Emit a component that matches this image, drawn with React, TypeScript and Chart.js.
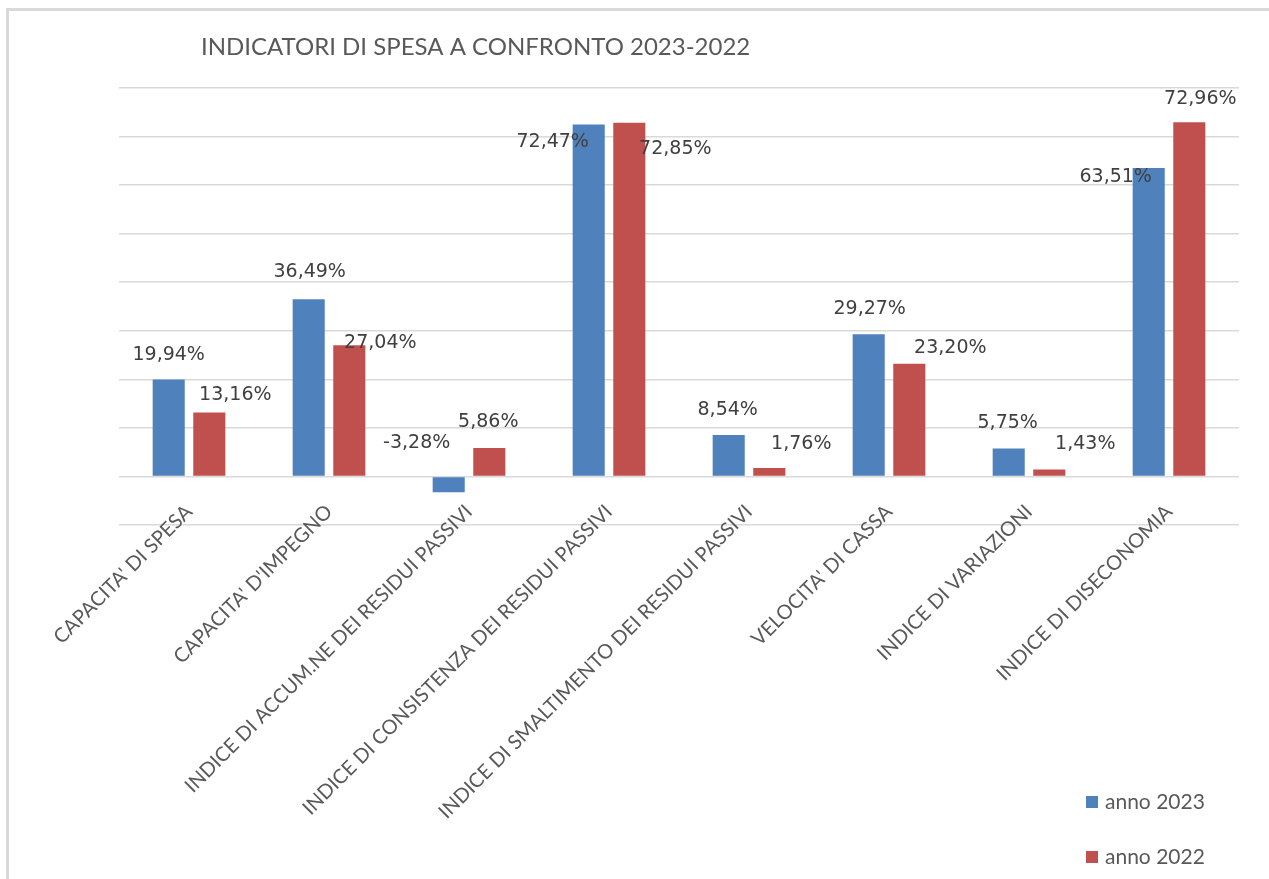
import React, { useEffect, useRef } from "react";
import { Chart, registerables } from "chart.js";

Chart.register(...registerables);

const TITLE = "INDICATORI DI SPESA A CONFRONTO 2023-2022";
const CATEGORIES = [
  "CAPACITA' DI SPESA",
  "CAPACITA' D'IMPEGNO",
  "INDICE DI ACCUM.NE DEI RESIDUI PASSIVI",
  "INDICE DI CONSISTENZA DEI RESIDUI PASSIVI",
  "INDICE DI SMALTIMENTO DEI RESIDUI PASSIVI",
  "VELOCITA' DI CASSA",
  "INDICE DI VARIAZIONI",
  "INDICE DI DISECONOMIA",
];
const SERIES_2023_LABEL = "anno 2023";
const SERIES_2022_LABEL = "anno 2022";
const VALUES_2023 = [19.94, 36.49, -3.28, 72.47, 8.54, 29.27, 5.75, 63.51];
const VALUES_2022 = [13.16, 27.04, 5.86, 72.85, 1.76, 23.2, 1.43, 72.96];
const Y_MIN = -10;
const Y_MAX = 80;
const Y_STEP = 10;

// label offsets (px) relative to bar end, as placed in the reference
const LABEL_DX = [
  [0, 1, -32, -36, -1, 1, -1, -33],
  [26, 31, -1, 46, 32, 41, 36, 11],
];
const LABEL_DY = [
  [-25, -27, -49, 18, -25, -25, -25, 9],
  [-17, -2, -26, 26, -24, -16, -25, -23],
];

const BLUE = "#4F81BD";
const RED = "#C0504D";
const TEXT = "#595959";
const GRID = "#d9d9d9";
const SANS = "Lato, 'Open Sans', sans-serif";

const fmt = (v: number) => v.toFixed(2).replace(".", ",") + "%";

const decorPlugin = {
  id: "decor",
  beforeDraw(chart: any) {
    const ctx = chart.ctx;
    ctx.save();
    ctx.fillStyle = "#ffffff";
    ctx.fillRect(0, 0, chart.width, chart.height);
    ctx.fillStyle = GRID;
    ctx.fillRect(6, 8, 3, chart.height - 8);
    ctx.fillRect(6, 8, chart.width - 6, 3);
    ctx.restore();
  },
  afterDraw(chart: any) {
    const ctx = chart.ctx;
    ctx.save();
    // title
    ctx.fillStyle = TEXT;
    ctx.font = `24px ${SANS}`;
    ctx.textAlign = "left";
    ctx.textBaseline = "middle";
    ctx.fillText(TITLE, 201, 47);
    // legend
    const ys = [802, 857];
    chart.data.datasets.forEach((ds: any, i: number) => {
      ctx.fillStyle = ds.backgroundColor;
      ctx.fillRect(1086, ys[i] - 6, 12, 12);
      ctx.fillStyle = TEXT;
      ctx.font = `21px ${SANS}`;
      ctx.textAlign = "left";
      ctx.textBaseline = "middle";
      ctx.fillText(ds.label, 1105, ys[i]);
    });
    // data labels
    ctx.fillStyle = "#404040";
    ctx.font = "19px 'DejaVu Sans', sans-serif";
    ctx.textAlign = "center";
    ctx.textBaseline = "middle";
    chart.data.datasets.forEach((ds: any, di: number) => {
      const meta = chart.getDatasetMeta(di);
      meta.data.forEach((el: any, i: number) => {
        ctx.fillText(fmt(ds.data[i]), el.x + LABEL_DX[di][i], el.y + LABEL_DY[di][i]);
      });
    });
    ctx.restore();
  },
};

export default function App() {
  const ref = useRef<HTMLCanvasElement>(null);
  useEffect(() => {
    if (!ref.current) return;
    const chart = new Chart(ref.current, {
      type: "bar",
      data: {
        labels: CATEGORIES,
        datasets: [
          {
            label: SERIES_2023_LABEL,
            data: VALUES_2023,
            backgroundColor: BLUE,
            barPercentage: 0.79,
            categoryPercentage: 0.58,
          },
          {
            label: SERIES_2022_LABEL,
            data: VALUES_2022,
            backgroundColor: RED,
            barPercentage: 0.79,
            categoryPercentage: 0.58,
          },
        ],
      },
      options: {
        animation: false,
        responsive: false,
        maintainAspectRatio: false,
        layout: { padding: { left: 119, right: 30, top: 88, bottom: 0 } },
        plugins: {
          legend: { display: false },
          title: { display: false },
          tooltip: { enabled: false },
        },
        scales: {
          x: {
            grid: { display: false, drawTicks: false },
            border: { display: false },
            ticks: {
              autoSkip: false,
              minRotation: 45,
              maxRotation: 45,
              padding: -25,
              color: TEXT,
              font: { family: SANS, size: 20 },
            },
            afterFit: (scale: any) => {
              scale.height = 879 - 525;
              scale._computeLabelArea = () => undefined;
            },
          },
          y: {
            min: Y_MIN,
            max: Y_MAX,
            ticks: { display: false, stepSize: Y_STEP },
            grid: { color: GRID, lineWidth: 1.5, drawTicks: false },
            border: { display: false },
            afterFit: (scale: any) => {
              scale.width = 0;
            },
          },
        },
      },
      plugins: [decorPlugin],
    });
    return () => chart.destroy();
  }, []);
  return (
    <>
      <style>{"body{margin:0;overflow:hidden;background:#fff}"}</style>
      <canvas ref={ref} width={1269} height={879} style={{ display: "block" }} />
    </>
  );
}
